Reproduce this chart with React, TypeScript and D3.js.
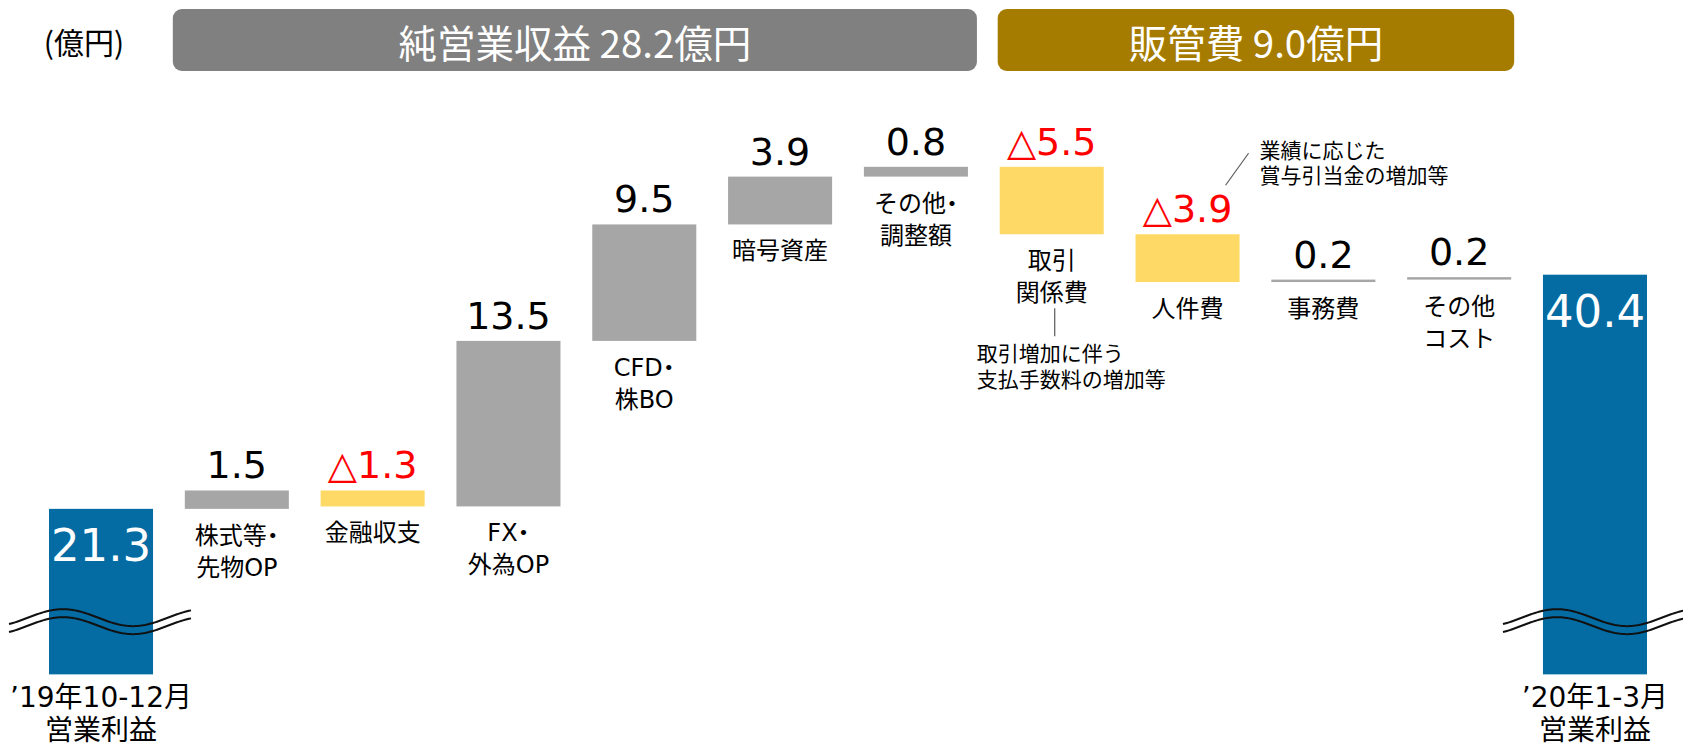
import React from 'react'
import * as d3 from 'd3'

// 営業利益の増減要因（億円）
const CATEGORIES: string[][] = [
  ['’19年10-12月', '営業利益'],
  ['株式等・', '先物OP'],
  ['金融収支'],
  ['FX・', '外為OP'],
  ['CFD・', '株BO'],
  ['暗号資産'],
  ['その他・', '調整額'],
  ['取引', '関係費'],
  ['人件費'],
  ['事務費'],
  ['その他', 'コスト'],
  ['’20年1-3月', '営業利益'],
]
const START_VALUE = 21.3
const END_VALUE = 40.4
const CHANGES = [1.5, -1.3, 13.5, 9.5, 3.9, 0.8, -5.5, -3.9, 0.2, 0.2]
const HEADERS = [
  { label: '純営業収益 28.2億円', from: 1, to: 6 },
  { label: '販管費 9.0億円', from: 7, to: 10 },
]
const UNIT_LABEL = '(億円)'
const NOTE_STAFF = ['業績に応じた', '賞与引当金の増加等']
const NOTE_TRADE = ['取引増加に伴う', '支払手数料の増加等']
const BAR_FLOOR = 7.8 // 省略表示の下端
const BREAK_AT = 12.1

const W = 1683
const H = 747
const BLUE = '#046BA3'
const GRAY = '#A6A6A6'
const YELLOW = '#FFD966'
const RED = '#FF0000'
const HEADER_COLORS = ['#808080', '#A67C00']
const JP = '"Noto Sans CJK JP", "Noto Sans", sans-serif'
const NUM = '"DejaVu Sans", Verdana, sans-serif'
const MIX = '"DejaVu Sans", "Noto Sans CJK JP", sans-serif'

// 末尾の中黒はプロポーショナル幅で詰める
function Label({ text }: { text: string }) {
  if (!text.endsWith('・')) return <>{text}</>
  return (
    <>
      {text.slice(0, -1)}
      <tspan style={{ fontFeatureSettings: '"palt"' }}>・</tspan>
    </>
  )
}

export default function App() {
  const x = d3.scaleBand<number>()
    .domain(d3.range(CATEGORIES.length))
    .range([49, 1647])
    .paddingInner(0.234)
    .paddingOuter(0)
  const bw = x.bandwidth()
  const y = d3.scaleLinear().domain([0, 50]).range([770, 157])

  // running totals
  const levels = [START_VALUE]
  CHANGES.forEach(c => levels.push(+(levels[levels.length - 1] + c).toFixed(2)))

  const steps = CHANGES.map((c, i) => {
    const idx = i + 1
    const prev = levels[i]
    const next = levels[i + 1]
    return { idx, c, hi: Math.max(prev, next), lo: Math.min(prev, next) }
  })

  const wave = (left: number, right: number, yc: number) => {
    const x0 = left - 40
    const x1 = right + 37
    const trough = left + 84
    const pts = d3.range(x0, x1 + 1, 2).map(px => [px, yc + 8.5 * Math.cos((2 * Math.PI * (px - trough)) / 140)] as [number, number])
    return d3.line()(pts) || ''
  }

  const ends = [
    { idx: 0, v: START_VALUE },
    { idx: CATEGORIES.length - 1, v: END_VALUE },
  ]

  const headerBox = (h: { from: number; to: number }, k: number) => {
    const left = (x(h.from) as number) - (k === 0 ? 12 : 2)
    const right = (x(h.to) as number) + bw + (k === 0 ? 9 : 3)
    return { left, right }
  }

  const cx = (i: number) => (x(i) as number) + bw / 2
  const staffTop = y(levels[7])

  return (
    <svg width={W} height={H} style={{ position: 'absolute', left: 0, top: 0, background: '#fff' }}>
      {/* 単位 */}
      <text x={84} y={41} textAnchor="middle" dominantBaseline="central" fontFamily={JP} fontSize={30} fill="#000">
        {UNIT_LABEL}
      </text>

      {/* ヘッダー */}
      {HEADERS.map((h, k) => {
        const { left, right } = headerBox(h, k)
        return (
          <g key={h.label}>
            <rect x={left} y={9} width={right - left} height={62} rx={9} fill={HEADER_COLORS[k]} />
            <text x={(left + right) / 2} y={41} textAnchor="middle" dominantBaseline="central"
              fontFamily={JP} fontSize={38.5} fill="#fff">{h.label}</text>
          </g>
        )
      })}

      {/* 期首・期末 */}
      {ends.map(e => (
        <g key={e.idx}>
          <rect x={x(e.idx)} y={y(e.v)} width={bw} height={y(BAR_FLOOR) - y(e.v)} fill={BLUE} />
          <text x={cx(e.idx)} y={y(e.v) + 52} textAnchor="middle" fontFamily={NUM} fontSize={45} fill="#fff">
            {e.v.toFixed(1)}
          </text>
          {[0, 1].map(k => (
            <path key={k} d={wave(x(e.idx) as number, (x(e.idx) as number) + bw, y(BREAK_AT) - 4 + k * 8)}
              fill="none" stroke="#111" strokeWidth={2} />
          ))}
          {CATEGORIES[e.idx].map((t, j) => (
            <text key={j} x={cx(e.idx)} y={y(BAR_FLOOR) + 23 + j * 33} textAnchor="middle" dominantBaseline="central"
              fontFamily={MIX} fontSize={28} fill="#000">{t}</text>
          ))}
        </g>
      ))}

      {/* 増減 */}
      {steps.map(s => {
        const neg = s.c < 0
        const h = Math.max(y(s.lo) - y(s.hi), 1)
        return (
          <g key={s.idx}>
            <rect x={x(s.idx)} y={y(s.hi)} width={bw} height={h} fill={neg ? YELLOW : GRAY} />
            <text x={cx(s.idx)} y={y(s.hi) - 12} textAnchor="middle" fontFamily={NUM} fontSize={38}
              fill={neg ? RED : '#000'}>
              {neg ? `△${Math.abs(s.c).toFixed(1)}` : s.c.toFixed(1)}
            </text>
            {CATEGORIES[s.idx].map((t, j) => (
              <text key={j} x={cx(s.idx)} y={y(s.lo) + 27 + j * 32} textAnchor="middle" dominantBaseline="central"
                fontFamily={MIX} fontSize={24} fill="#000"><Label text={t} /></text>
            ))}
          </g>
        )
      })}

      {/* 注記：人件費 */}
      <line x1={(x(8) as number) + bw + 9} y1={staffTop - 81} x2={(x(8) as number) + bw - 14} y2={staffTop - 49}
        stroke="#595959" strokeWidth={1.2} />
      {NOTE_STAFF.map((t, j) => (
        <text key={t} x={(x(8) as number) + bw + 20} y={149 + j * 25} dominantBaseline="central"
          fontFamily={JP} fontSize={21} fill="#000">{t}</text>
      ))}

      {/* 注記：取引関係費 */}
      <line x1={cx(7) + 3} y1={staffTop + 74} x2={cx(7) + 3} y2={staffTop + 102}
        stroke="#595959" strokeWidth={1.2} />
      {NOTE_TRADE.map((t, j) => (
        <text key={t} x={cx(7) - 75} y={352 + j * 26} dominantBaseline="central"
          fontFamily={JP} fontSize={21} fill="#000">{t}</text>
      ))}
    </svg>
  )
}
